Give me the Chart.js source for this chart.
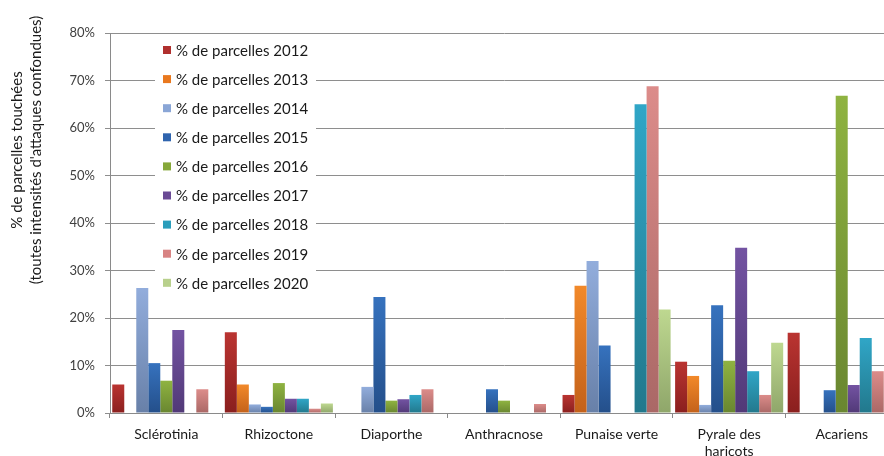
<!DOCTYPE html>
<html>
<head>
<meta charset="utf-8">
<script src="https://cdn.jsdelivr.net/npm/chart.js@4/dist/chart.umd.min.js"></script>
<style>
  html, body { margin: 0; padding: 0; background: #fff; overflow: hidden; }
  #wrap { width: 900px; height: 456px; }
</style>
</head>
<body>
<div id="wrap"><canvas id="c"></canvas></div>
<script>
// Categories (pests / diseases) and yearly share of affected plots, in %
const categories = ['Sclérotinia', 'Rhizoctone', 'Diaporthe', 'Anthracnose', 'Punaise verte', ['Pyrale des', 'haricots'], 'Acariens'];
const years = ['2012', '2013', '2014', '2015', '2016', '2017', '2018', '2019', '2020'];

const v2012 = [6, 17, 0, 0, 3.8, 10.8, 16.9];
const v2013 = [0, 6, 0, 0, 26.8, 7.8, 0];
const v2014 = [26.3, 1.8, 5.5, 0, 32, 1.7, 0];
const v2015 = [10.5, 1.3, 24.4, 5, 14.2, 22.7, 4.8];
const v2016 = [6.8, 6.3, 2.6, 2.6, 0, 11, 66.8];
const v2017 = [17.5, 3, 2.9, 0, 0, 34.8, 5.9];
const v2018 = [0, 3, 3.8, 0, 65, 8.8, 15.8];
const v2019 = [5, 0.9, 5, 1.9, 68.8, 3.8, 8.8];
const v2020 = [0, 2, 0, 0, 21.8, 14.8, 0];

const yTicks = [0, 10, 20, 30, 40, 50, 60, 70, 80];

const seriesValues = [v2012, v2013, v2014, v2015, v2016, v2017, v2018, v2019, v2020];

// Top / bottom shades of each year's bar gradient, plus a flat swatch colour
const shades = [
  ['#ba3431', '#8a1f1e', '#b0302e'],
  ['#f2892a', '#c3611a', '#e9781e'],
  ['#92addc', '#6880a8', '#8aa6d6'],
  ['#3672be', '#244f8a', '#2f64ae'],
  ['#8fb341', '#698630', '#86a83a'],
  ['#7353a2', '#513977', '#6a4a95'],
  ['#30a6c7', '#22788c', '#2a9dbb'],
  ['#dc8c8a', '#aa6866', '#d88383'],
  ['#bed890', '#8fa66a', '#b8d08c']
];

function barFill(top, bottom) {
  return (ctx) => {
    const chart = ctx.chart;
    const y = chart.scales && chart.scales.y;
    if (!chart.chartArea || !y || ctx.type !== 'data') return top;
    const v = ctx.parsed ? ctx.parsed.y : 0;
    const y1 = y.getPixelForValue(v);
    const y0 = y.getPixelForValue(0);
    if (!isFinite(y1) || Math.abs(y0 - y1) < 1) return top;
    const g = chart.ctx.createLinearGradient(0, y1, 0, y0);
    g.addColorStop(0, top);
    g.addColorStop(1, bottom);
    return g;
  };
}

const datasets = years.map((yr, i) => ({
  label: '% de parcelles ' + yr,
  data: seriesValues[i],
  backgroundColor: barFill(shades[i][0], shades[i][1]),
  swatch: shades[i][2],
  borderWidth: 0,
  categoryPercentage: 0.96,
  barPercentage: 1.0
}));

const FONT = 'Lato, "Open Sans", sans-serif';

// Legend box drawn inside the plot area, on top of the grid
const insideLegend = {
  id: 'insideLegend',
  beforeDatasetsDraw(chart) {
    const ctx = chart.ctx;
    ctx.save();
    ctx.fillStyle = '#ffffff';
    ctx.fillRect(155, 37, 161, 262);
    ctx.font = '15px ' + FONT;
    ctx.textBaseline = 'middle';
    ctx.textAlign = 'left';
    chart.data.datasets.forEach((ds, i) => {
      const y = 50 + i * 29.1;
      ctx.fillStyle = ds.swatch;
      ctx.fillRect(163, y - 4, 8, 8);
      ctx.fillStyle = '#1a1a1a';
      ctx.fillText(ds.label, 176, y + 1);
    });
    ctx.restore();
  }
};

// Two-line rotated title of the value axis
const yTitle = {
  id: 'yTitle',
  afterDraw(chart) {
    const ctx = chart.ctx;
    ctx.save();
    ctx.fillStyle = '#1a1a1a';
    ctx.font = '15px ' + FONT;
    ctx.textAlign = 'center';
    ctx.textBaseline = 'middle';
    const lines = ['% de parcelles touchées', '(toutes intensités d\'attaques confondues)'];
    ctx.translate(0, 150);
    ctx.rotate(-Math.PI / 2);
    ctx.fillText(lines[0], 0, 17);
    ctx.fillText(lines[1], 0, 36);
    ctx.restore();
  }
};

new Chart(document.getElementById('c'), {
  type: 'bar',
  data: { labels: categories, datasets },
  plugins: [insideLegend, yTitle],
  options: {
    responsive: true,
    maintainAspectRatio: false,
    animation: false,
    events: [],
    layout: { padding: { top: 33, right: 2, bottom: 0, left: 0 } },
    plugins: {
      legend: { display: false },
      tooltip: { enabled: false }
    },
    scales: {
      x: {
        grid: { display: true, drawOnChartArea: false, offset: true, color: '#8a8a8a', tickLength: 5 },
        border: { display: true, color: '#8a8a8a', width: 1 },
        ticks: { color: '#1a1a1a', font: { family: FONT, size: 14 }, padding: 8, maxRotation: 0, autoSkip: false },
        afterFit(scale) { scale.height = 43; }
      },
      y: {
        min: 0,
        max: 80,
        afterBuildTicks(scale) { scale.ticks = yTicks.map(v => ({ value: v })); },
        grid: { color: '#8e8e8e', lineWidth: 1, tickLength: 5, drawTicks: true },
        border: { display: true, color: '#8a8a8a', width: 1 },
        ticks: {
          color: '#404040',
          font: { family: FONT, size: 13 },
          padding: 10,
          callback: (v) => v + '%'
        },
        afterFit(scale) { scale.width = 110; }
      }
    }
  }
});
</script>
</body>
</html>
